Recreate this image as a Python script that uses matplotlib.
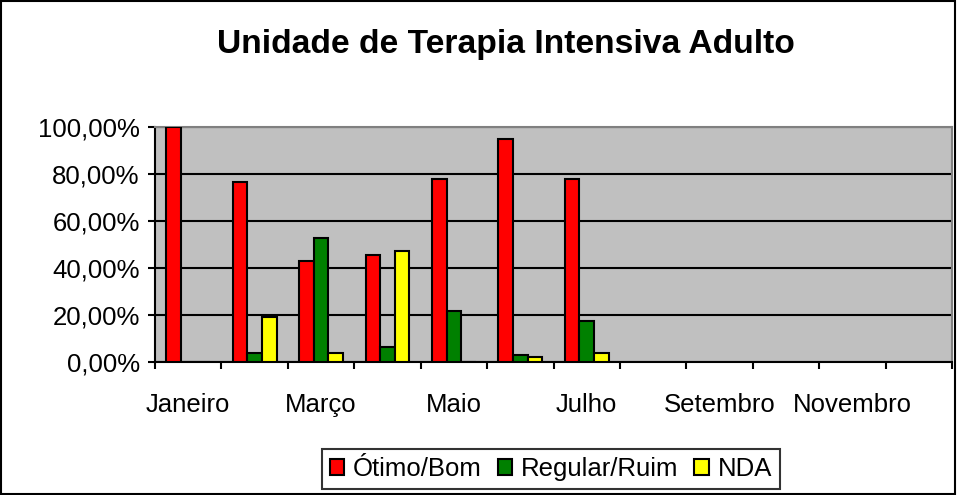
import numpy as np
import matplotlib
matplotlib.use("Agg")
import matplotlib.pyplot as plt
from matplotlib.patches import Rectangle
from matplotlib.ticker import FuncFormatter, FixedLocator

plt.rcParams["font.family"] = ["Liberation Sans", "DejaVu Sans"]

months = ["Janeiro", "Fevereiro", "Março", "Abril", "Maio", "Junho", "Julho",
          "Agosto", "Setembro", "Outubro", "Novembro", "Dezembro"]
otimo_bom = [100.0, 76.5, 43.1, 45.7, 78.0, 95.0, 78.0]
regular_ruim = [0.0, 4.0, 52.6, 6.4, 21.8, 3.1, 17.6]
nda = [0.0, 19.3, 4.0, 47.4, 0.0, 2.3, 4.0]

series = [("Ótimo/Bom", otimo_bom, "#FF0000"),
          ("Regular/Ruim", regular_ruim, "#008000"),
          ("NDA", nda, "#FFFF00")]

W, H = 957, 495
fig = plt.figure(figsize=(W / 100, H / 100), dpi=100)
ax = fig.add_axes([155 / W, 1 - 362 / H, (952 - 155) / W, (362 - 127) / H])
ax.set_facecolor("#C0C0C0")

bw = 0.22
x = np.arange(len(otimo_bom))
for i, (label, vals, col) in enumerate(series):
    ax.bar(x + (i - 1) * bw, vals, bw, color=col, edgecolor="black",
           linewidth=1.5, label=label, zorder=3)

ax.set_xlim(-0.5, len(months) - 0.5)
ax.set_ylim(0, 100)
ax.set_yticks(np.arange(0, 101, 20))
ax.yaxis.set_major_formatter(FuncFormatter(lambda v, p: f"{v:.2f}".replace(".", ",") + "%"))
ax.yaxis.grid(True, color="black", linewidth=1.5, zorder=1)
ax.set_axisbelow(True)

ax.set_xticks(np.arange(0, len(months), 2))
ax.set_xticklabels(months[::2])
ax.xaxis.set_minor_locator(FixedLocator(np.arange(-0.5, len(months), 1)))
ax.tick_params(axis="x", which="major", length=0, pad=22, labelsize=18.5)
ax.tick_params(axis="x", which="minor", length=5, width=1.5, direction="out")
ax.tick_params(axis="y", length=5, width=1.5, direction="out", pad=6, labelsize=18.5)

ax.spines["left"].set_linewidth(1.5)
ax.spines["bottom"].set_linewidth(1.5)
for s in ("top", "right"):
    ax.spines[s].set_color("#808080")
    ax.spines[s].set_linewidth(1.5)

fig.text(506 / W, 1 - 45 / H, "Unidade de Terapia Intensiva Adulto",
         ha="center", va="center", fontsize=24.2, fontweight="bold")

leg = fig.legend(loc="center", bbox_to_anchor=(551 / W, 1 - 469 / H), ncol=3,
                 fontsize=18.5, frameon=True, fancybox=False, handlelength=0.55,
                 handleheight=0.55, handletextpad=0.35, columnspacing=0.62,
                 borderpad=0.3, borderaxespad=0)
leg.get_frame().set_edgecolor("black")
leg.get_frame().set_linewidth(1.5)

fig.patches.append(Rectangle((0.001, 0.002), 0.997, 0.996, transform=fig.transFigure,
                             fill=False, edgecolor="black", linewidth=1.5))

fig.savefig("out.png", dpi=100)
